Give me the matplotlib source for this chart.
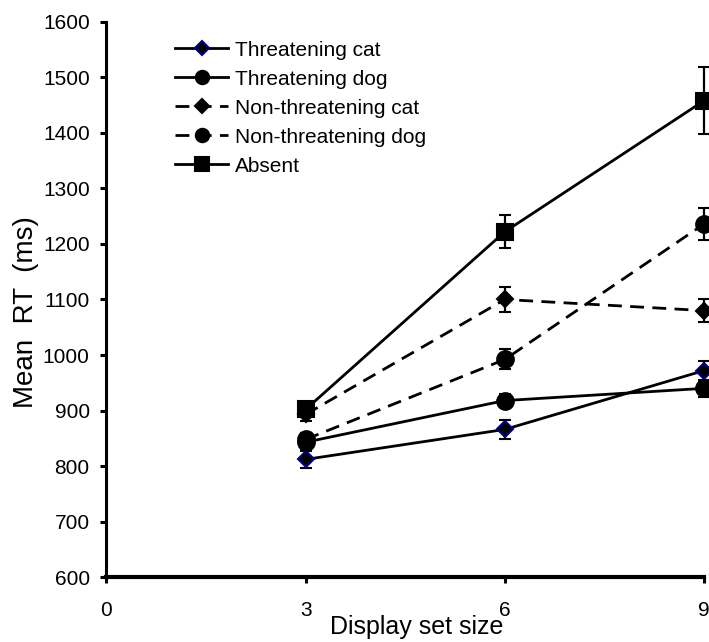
import matplotlib
matplotlib.use("Agg")
import matplotlib.pyplot as plt

plt.rcParams['font.family'] = ['Liberation Sans', 'DejaVu Sans']

set_sizes = [3, 6, 9]

threat_cat = [812, 866, 972]
threat_cat_err = [15, 17, 18]
threat_dog = [843, 918, 940]
threat_dog_err = [12, 12, 15]
nonthreat_cat = [893, 1100, 1080]
nonthreat_cat_err = [12, 23, 20]
nonthreat_dog = [848, 992, 1236]
nonthreat_dog_err = [12, 18, 28]
absent = [902, 1222, 1458]
absent_err = [12, 30, 60]

labels = ["Threatening cat", "Threatening dog", "Non-threatening cat",
          "Non-threatening dog", "Absent"]

fig = plt.figure(figsize=(7.09, 6.42), dpi=100)
ax = fig.add_axes([0.150, 0.101, 0.843, 0.865])

dash = (0, (5, 3))
series = [
    (threat_cat, threat_cat_err, "D", 8.5, "-", "#000080"),
    (threat_dog, threat_dog_err, "o", 12, "-", "black"),
    (nonthreat_cat, nonthreat_cat_err, "D", 8.5, dash, "black"),
    (nonthreat_dog, nonthreat_dog_err, "o", 12, dash, "black"),
    (absent, absent_err, "s", 12, "-", "black"),
]

handles = []
for vals, err, mk, ms, ls, edge in series:
    eb = ax.errorbar(set_sizes, vals, yerr=err, marker=mk, markersize=ms,
                     markerfacecolor="black", markeredgecolor=edge,
                     markeredgewidth=1.5, linestyle=ls, color="black",
                     linewidth=2.0, elinewidth=1.6, capsize=4, capthick=1.6,
                     clip_on=False)
    for c in list(eb[1]) + list(eb[2]):
        c.set_clip_on(False)
    handles.append(eb[0])

ax.set_xlim(0, 9)
ax.set_ylim(600, 1600)
ax.set_xticks([0, 3, 6, 9])
ax.set_yticks(range(600, 1601, 100))

ax.spines['top'].set_visible(False)
ax.spines['right'].set_visible(False)
ax.spines['left'].set_linewidth(2.2)
ax.spines['bottom'].set_linewidth(3)
ax.tick_params(axis='both', direction='out', width=2.2, length=4,
               labelsize=15)
ax.tick_params(axis='x', pad=13)
ax.tick_params(axis='y', pad=8)

ax.set_xlabel("Display set size", fontsize=18)
ax.xaxis.set_label_coords(0.519, -0.068)
ax.set_ylabel("Mean  RT  (ms)", fontsize=20)
ax.yaxis.set_label_coords(-0.113, 0.477)

ax.legend(handles, labels, loc="upper left", bbox_to_anchor=(0.115, 0.966),
          frameon=False, fontsize=15, handlelength=2.55, handletextpad=0.33,
          labelspacing=0.48, borderaxespad=0, borderpad=0, markerscale=0.8)

fig.savefig("out.png", dpi=100)
